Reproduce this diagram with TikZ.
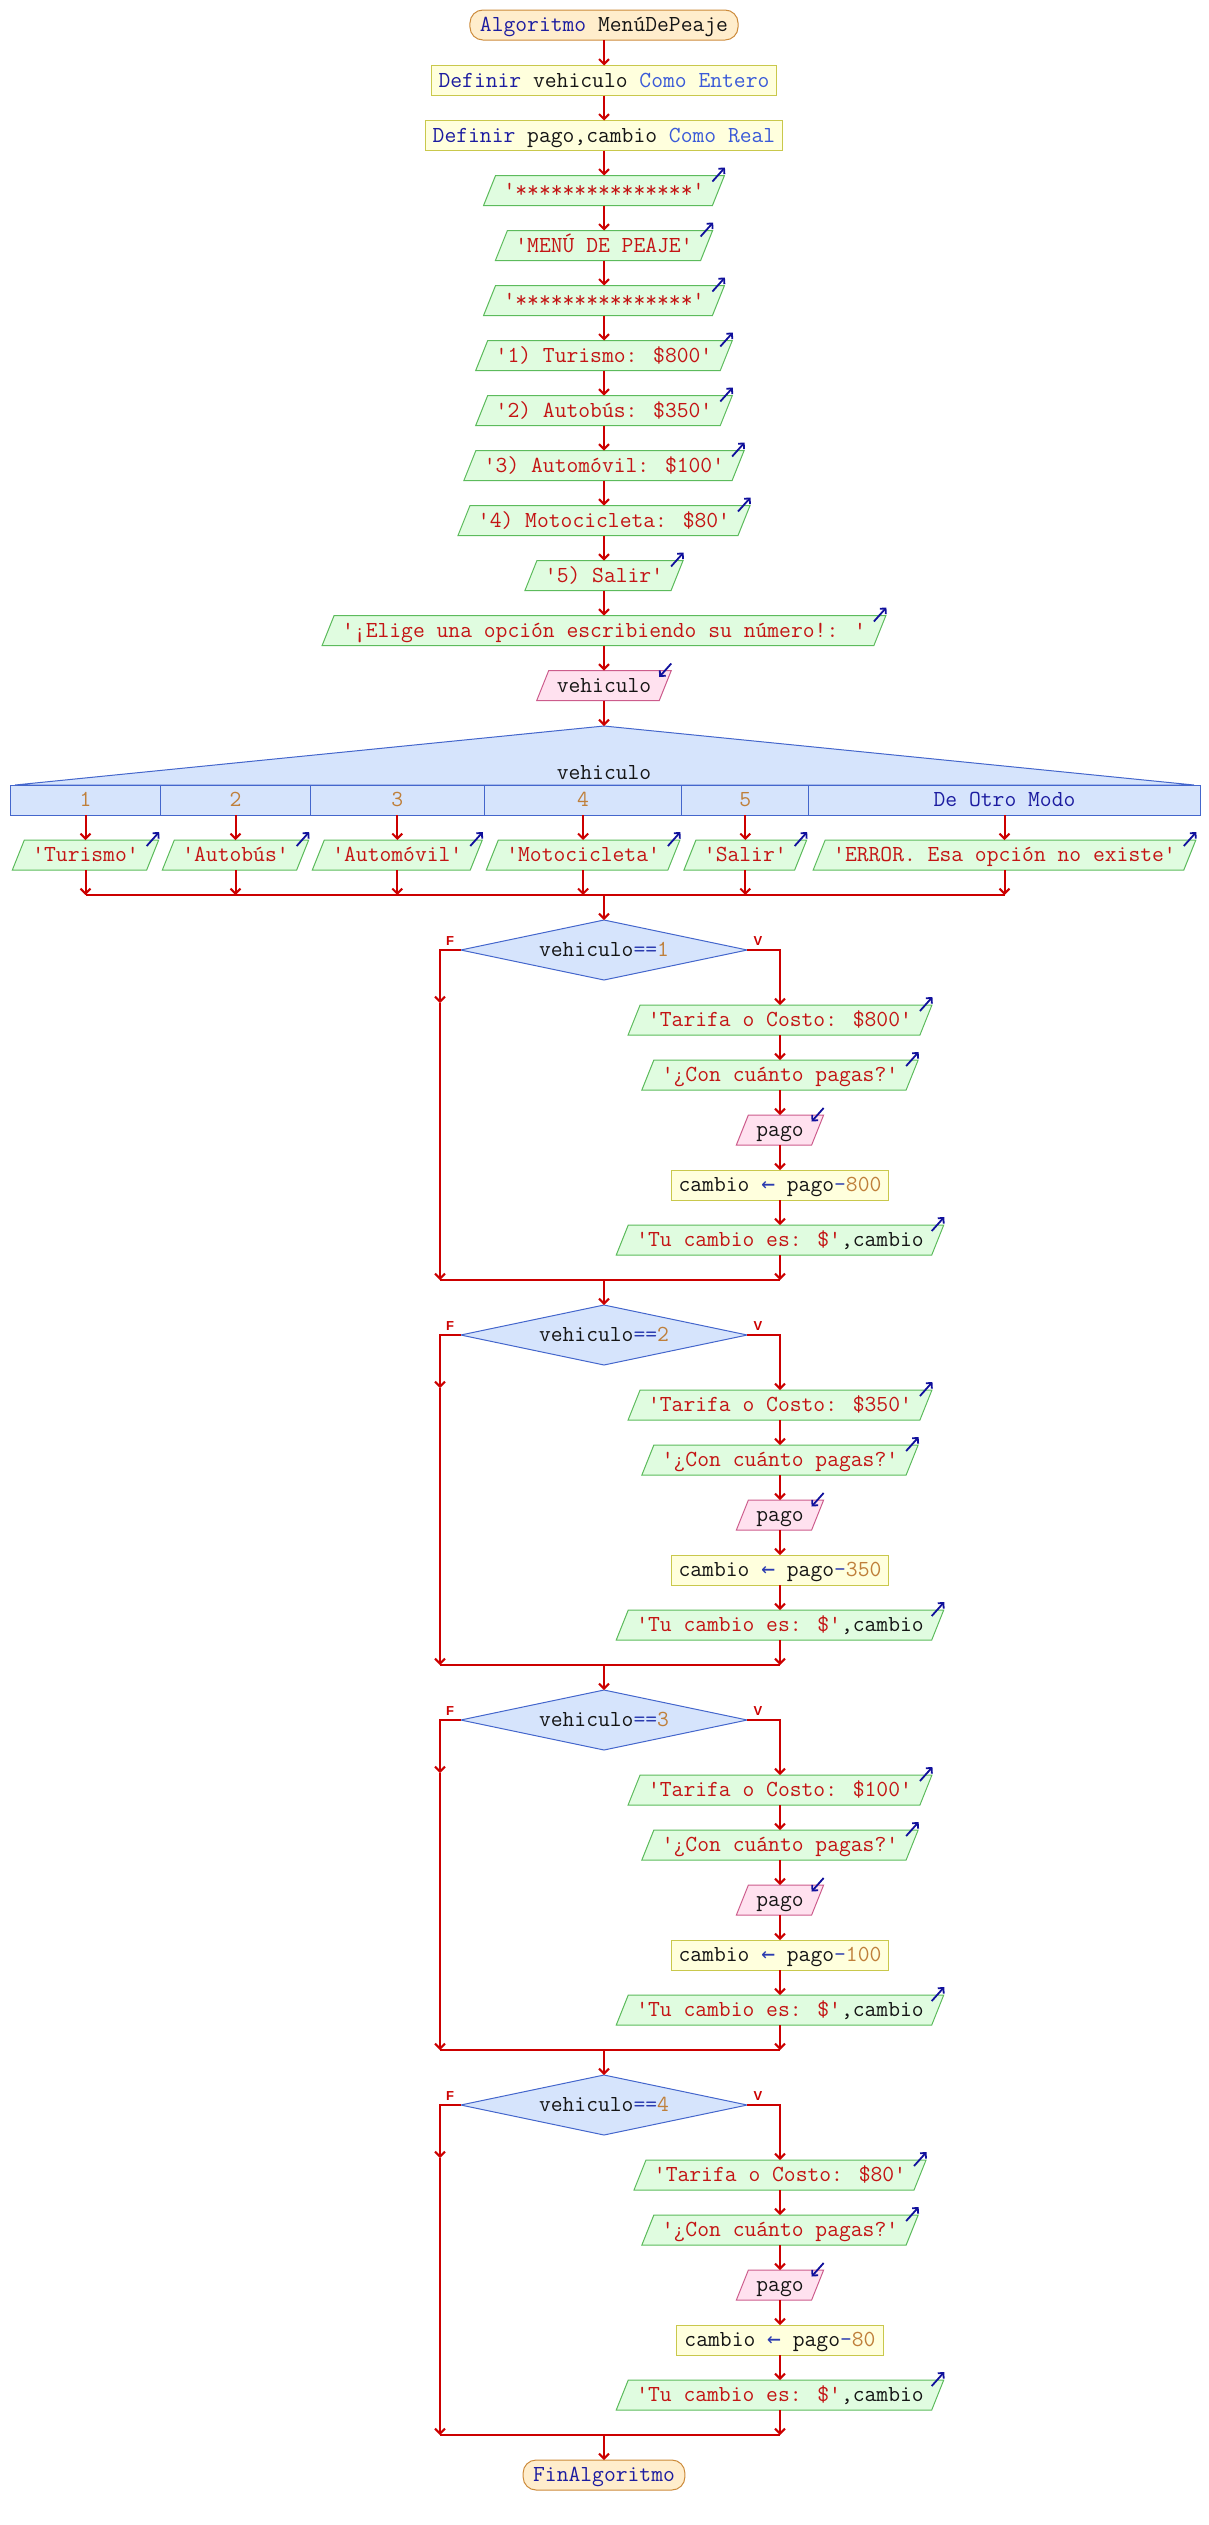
\documentclass[tikz,border=0pt]{standalone}
\usepackage{fontspec}
\usetikzlibrary{arrows.meta,shapes.geometric,backgrounds,calc}
\newfontfamily\arrf{DejaVu Sans Mono}
\newfontfamily\labf{Liberation Sans}
\definecolor{cRed}{HTML}{CC0000}
\definecolor{cKw}{HTML}{1C1CA0}
\definecolor{cKwB}{HTML}{3A5AD8}
\definecolor{cStr}{HTML}{C41414}
\definecolor{cNum}{HTML}{BF7F3A}
\definecolor{cOp}{HTML}{2B3BB0}
\definecolor{cId}{HTML}{151515}
\definecolor{termF}{HTML}{FFEDCC}
\definecolor{termB}{HTML}{CC8A3A}
\definecolor{defF}{HTML}{FFFFDD}
\definecolor{defB}{HTML}{C9C84C}
\definecolor{outF}{HTML}{E0FCE0}
\definecolor{outB}{HTML}{5CBB5C}
\definecolor{inF}{HTML}{FFE1EF}
\definecolor{inB}{HTML}{CC5C8C}
\definecolor{swF}{HTML}{D6E4FC}
\definecolor{swB}{HTML}{4466CC}
\definecolor{ioA}{HTML}{10109C}
\newcommand\Kw[1]{\textcolor{cKw}{#1}}
\newcommand\KwB[1]{\textcolor{cKwB}{#1}}
\newcommand\Str[1]{\textcolor{cStr}{#1}}
\newcommand\Num[1]{\textcolor{cNum}{#1}}
\newcommand\Op[1]{\textcolor{cOp}{#1}}
\newcommand\PSout[3]{%
  \node[iotext] (#1) at (#2) {#3};
  \begin{scope}[on background layer]
    \filldraw[draw=outB, fill=outF, line width=1pt] ([xshift=6pt]#1.north west) -- ([xshift=6pt]#1.north east) -- ([xshift=-6pt]#1.south east) -- ([xshift=-6pt]#1.south west) -- cycle;
  \end{scope}
  \draw[ioarr] ([xshift=-6pt,yshift=-6pt]#1.north east) -- ([xshift=6.5pt,yshift=8pt]#1.north east);
}
\newcommand\PSin[3]{%
  \node[iotext] (#1) at (#2) {#3};
  \begin{scope}[on background layer]
    \filldraw[draw=inB, fill=inF, line width=1pt] ([xshift=6pt]#1.north west) -- ([xshift=6pt]#1.north east) -- ([xshift=-6pt]#1.south east) -- ([xshift=-6pt]#1.south west) -- cycle;
  \end{scope}
  \draw[ioarr] ([xshift=6pt,yshift=7pt]#1.north east) -- ([xshift=-6pt,yshift=-6.5pt]#1.north east);
}
\begin{document}
\begin{tikzpicture}[x=1pt,y=-1pt,
  conn/.style={draw=cRed, line width=2pt, -{Straight Barb[length=5pt,width=10pt]}},
  rline/.style={draw=cRed, line width=2pt},
  base/.style={font=\ttfamily\fontsize{22.94pt}{25pt}\selectfont, text=cId, text height=15.4pt, text depth=1.6pt, minimum height=30pt, inner ysep=0pt, outer sep=0pt},
  term/.style={base, draw=termB, fill=termF, rounded corners=13pt, inner xsep=10pt, line width=1pt},
  defbox/.style={base, draw=defB, fill=defF, inner xsep=7.5pt, line width=1pt},
  iotext/.style={base, inner xsep=14pt},
  cell/.style={base, draw=swB, fill=swF, line width=1pt, inner xsep=0pt},
  cond/.style={base, diamond, shape aspect=4.775, draw=swB, fill=swF, line width=1pt, inner sep=0pt, minimum width=286.5pt, minimum height=60pt},
  fv/.style={font=\labf\bfseries\fontsize{13pt}{14pt}\selectfont, text=cRed, inner sep=0pt},
  ioarr/.style={draw=ioA, line width=1.8pt, -{Straight Barb[length=4pt,width=8pt]}},
]
\useasboundingbox (0,0) rectangle (1208,2525);

% header
\node[term] (start) at (604,25) {\Kw{Algoritmo} MenúDePeaje};
\node[defbox] (def1) at (604,80.5) {\Kw{Definir} vehiculo \KwB{Como} \KwB{Entero}};
\node[defbox] (def2) at (604,135.5) {\Kw{Definir} pago,cambio \KwB{Como} \KwB{Real}};
\PSout{o1}{604,190.5}{\Str{'***************'}}
\PSout{o2}{604,245.5}{\Str{'MENÚ DE PEAJE'}}
\PSout{o3}{604,300.5}{\Str{'***************'}}
\PSout{o4}{604,355.5}{\Str{'1) Turismo: \$800'}}
\PSout{o5}{604,410.5}{\Str{'2) Autobús: \$350'}}
\PSout{o6}{604,465.5}{\Str{'3) Automóvil: \$100'}}
\PSout{o7}{604,520.5}{\Str{'4) Motocicleta: \$80'}}
\PSout{o8}{604,575.5}{\Str{'5) Salir'}}
\PSout{o9}{604,630.5}{\Str{'¡Elige una opción escribiendo su número!: '}}
\PSin{in1}{604,685.5}{vehiculo}

\foreach \a/\b in {start/def1,def1/def2,def2/o1,o1/o2,o2/o3,o3/o4,o4/o5,o5/o6,o6/o7,o7/o8,o8/o9,o9/in1}
  \draw[conn] (\a.south) -- (\b.north);

% switch
\coordinate (swtop) at (604,726);
\filldraw[draw=swB, fill=swF, line width=1pt] (swtop) -- (15,785) -- (1194,785) -- cycle;
\node[base] (swlab) at (604,772.5) {vehiculo};
\node[cell, minimum width=150.4pt] (k1) at (85.5,800) {\Num{1}};
\node[cell, minimum width=149.6pt] (k2) at (235.5,800) {\Num{2}};
\node[cell, minimum width=174pt] (k3) at (397.3,800) {\Num{3}};
\node[cell, minimum width=197.6pt] (k4) at (583.1,800) {\Num{4}};
\node[cell, minimum width=126.8pt] (k5) at (745.3,800) {\Num{5}};
\node[cell, minimum width=391.6pt] (k6) at (1004.5,800) {\Kw{De Otro Modo}};
\draw[conn] (in1.south) -- (swtop);

\PSout{c1}{85.5,855}{\Str{'Turismo'}}
\PSout{c2}{235.5,855}{\Str{'Autobús'}}
\PSout{c3}{397.3,855}{\Str{'Automóvil'}}
\PSout{c4}{583.1,855}{\Str{'Motocicleta'}}
\PSout{c5}{745.3,855}{\Str{'Salir'}}
\PSout{c6}{1004.5,855}{\Str{'ERROR. Esa opción no existe'}}
\coordinate (m0) at (604,895);
\foreach \i in {1,...,6}{
  \draw[conn] (k\i.south) -- (c\i.north);
  \draw[conn] (c\i.south) -- (c\i.south |- m0);
}
\draw[rline] (c1.south |- m0) -- (c6.south |- m0);

% if blocks
\foreach \k/\D/\c in {1/950/800,2/1335/350,3/1720/100,4/2105/80}{
  \node[cond] (d\k) at (604,\D) {vehiculo\Op{==}\Num{\k}};
  \node[fv] (fl\k) at (450,\D-9.3) {F};
  \node[fv] (vl\k) at (758,\D-9.3) {V};
  \PSout{t\k}{780,\D+70}{\Str{'Tarifa o Costo: \$\c'}}
  \PSout{q\k}{780,\D+125}{\Str{'¿Con cuánto pagas?'}}
  \PSin{p\k}{780,\D+180}{pago}
  \node[defbox] (a\k) at (780,\D+235) {cambio \Op{{\arrf ←}} pago\Op{-}\Num{\c}};
  \PSout{w\k}{780,\D+290}{\Str{'Tu cambio es: \$'},cambio}
  \coordinate (f\k) at (440,\D+53);
  \coordinate (m\k) at (604,\D+330);
  \draw[conn] (d\k.west) -| (f\k);
  \draw[conn] (f\k) -- (f\k |- m\k);
  \draw[conn] (d\k.east) -| (t\k.north);
  \draw[conn] (t\k.south) -- (q\k.north);
  \draw[conn] (q\k.south) -- (p\k.north);
  \draw[conn] (p\k.south) -- (a\k.north);
  \draw[conn] (a\k.south) -- (w\k.south |- w\k.north);
  \draw[conn] (w\k.south) -- (w\k.south |- m\k);
  \draw[rline] (f\k |- m\k) -- (w\k.south |- m\k);
}
\draw[conn] (m0) -- (d1.north);
\draw[conn] (m1) -- (d2.north);
\draw[conn] (m2) -- (d3.north);
\draw[conn] (m3) -- (d4.north);
\node[term] (fin) at (604,2475) {\Kw{FinAlgoritmo}};
\draw[conn] (m4) -- (fin.north);
\end{tikzpicture}
\end{document}
